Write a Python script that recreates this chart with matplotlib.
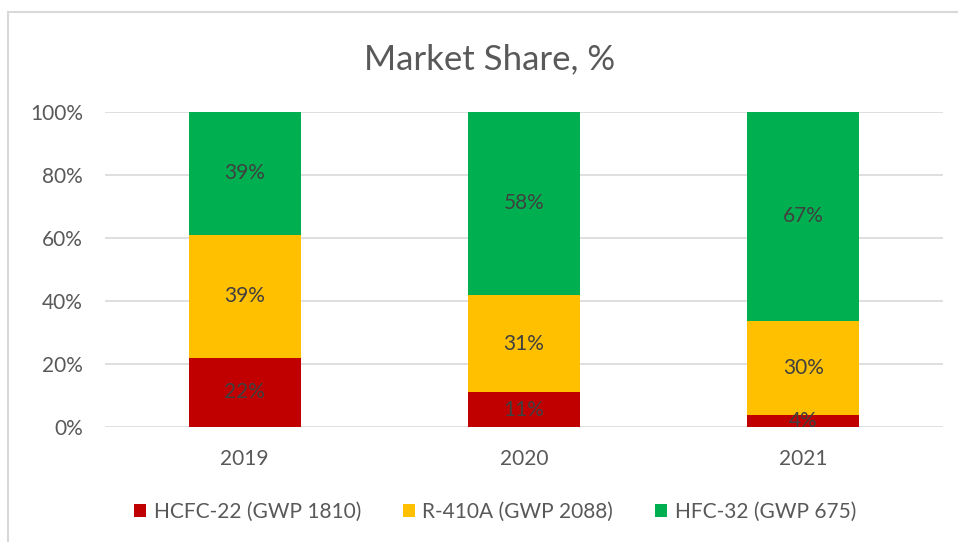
import matplotlib.pyplot as plt
import matplotlib.patches as mpatches
import numpy as np

plt.rcParams['font.family'] = ['Lato', 'DejaVu Sans']

anos = ['2019', '2020', '2021']
series = ['HCFC-22 (GWP 1810)', 'R-410A (GWP 2088)', 'HFC-32 (GWP 675)']
hcfc22 = [22, 11, 4]
r410a = [39, 31, 30]
hfc32 = [39, 58, 67]
CORES = ['#C00000', '#FFC000', '#00B050']
TEXTO = '#595959'

dados = np.array([hcfc22, r410a, hfc32], dtype=float)
# 100% empilhado: normaliza cada coluna
partes = dados / dados.sum(axis=0) * 100

fig = plt.figure(figsize=(9.58, 5.42), dpi=100)
ax = fig.add_axes([105 / 958, 1 - 427 / 542, 838 / 958, 315 / 542])

# borda do gráfico, estilo Excel
fig.patches.append(mpatches.Rectangle((8 / 958, -0.05), 1.0, 1 - 12 / 542 + 0.05,
                                      transform=fig.transFigure, fill=False,
                                      edgecolor='#D9D9D9', linewidth=1.5))

x = np.arange(len(anos))
base = np.zeros(len(anos))
for i, nome in enumerate(series):
    bars = ax.bar(x, partes[i], bottom=base, width=0.4, color=CORES[i],
                  label=nome, zorder=3)
    for j, b in enumerate(bars):
        ax.text(b.get_x() + b.get_width() / 2, base[j] + partes[i][j] / 2,
                f'{int(dados[i][j])}%', ha='center', va='center',
                fontsize=15, color='#404040', zorder=4)
    base += partes[i]

ax.set_xlim(-0.5, len(anos) - 0.5)
ax.set_ylim(0, 100)
ax.set_yticks(np.arange(0, 101, 20))
ax.set_yticklabels([f'{v}%' for v in range(0, 101, 20)])
ax.set_xticks(x)
ax.set_xticklabels(anos)
ax.tick_params(axis='both', length=0, labelsize=15, labelcolor=TEXTO)
ax.tick_params(axis='y', pad=16)
ax.tick_params(axis='x', pad=16)
ax.yaxis.grid(True, color='#D9D9D9', linewidth=1.2, zorder=0)
ax.set_axisbelow(True)
for s in ax.spines.values():
    s.set_visible(False)

fig.text(490 / 958, 1 - 59 / 542, 'Market Share, %', ha='center', va='center',
         fontsize=25, color=TEXTO)

fig.legend(loc='center', bbox_to_anchor=(495 / 958, 1 - 512 / 542), ncol=3,
           frameon=False, fontsize=15, labelcolor=TEXTO, handlelength=0.6,
           handleheight=0.6, handletextpad=0.35, columnspacing=2.0)

fig.savefig('out.png', dpi=100)
